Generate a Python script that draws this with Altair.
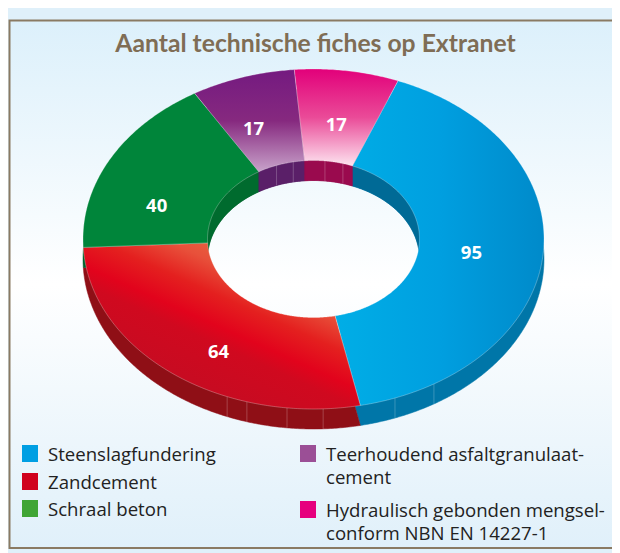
import math
import altair as alt

title_text = "Aantal technische fiches op Extranet"
categories = ["Steenslagfundering", "Zandcement", "Schraal beton", "Teerhoudend asfaltgranulaat-cement", "Hydraulisch gebonden mengsel-conform NBN EN 14227-1"]
values = [95, 64, 40, 17, 17]
legend_lines = [["Steenslagfundering"], ["Zandcement"], ["Schraal beton"],
                ["Teerhoudend asfaltgranulaat-", "cement"],
                ["Hydraulisch gebonden mengsel-", "conform NBN EN 14227-1"]]
legend_colors = ["#009fe3", "#d0021e", "#3fa535", "#9b4f96", "#e6007e"]
rim_colors = ["#0076a8", "#8f0f16", "#00602a", "#4f1a5c", "#8e0b4a"]
wall_colors = ["#006a96", "#8f0f16", "#006b2e", "#5a1f68", "#9a0a4e"]
label_shift = [2, -6, -12, -4, 0]
label_radius = [0.69, 0.783, 0.708, 0.698, 0.678]


def grad(x1, y1, x2, y2, stops):
    return {"gradient": "linear", "x1": x1, "y1": y1, "x2": x2, "y2": y2,
            "stops": [{"offset": o, "color": c} for o, c in stops]}


face_fills = [
    grad(0, 0, 1, 0, [(0, "#00aee6"), (0.5, "#009fe0"), (1, "#008aca")]),
    grad(0.45, 1, 1.05, 0.2, [(0, "#c40c22"), (0.33, "#d0091f"), (0.42, "#e2031c"), (0.57, "#e4201f"), (0.72, "#e8503a"), (0.88, "#e96a42")]),
    "#00853a",
    grad(0, 0, 0, 1, [(0, "#741a80"), (0.5, "#86297f"), (1, "#c8a2ca")]),
    grad(0, 0, 0, 1, [(0, "#e2007a"), (0.5, "#ea4b98"), (1, "#fde4f0")]),
]

# geometry of the tilted ring, image pixels
CX, CY, RX, RY = 313.5, 239.0, 230.5, 170.0
IRX, IRY, DEPTH = 106.0, 78.5, 20.0
START = 21.5
OFF = 8
proj = alt.Projection(type="identity", scale=1, translate=[-OFF, -OFF])


def pt(deg, rx, ry, dy=0.0):
    a = math.radians(deg)
    return [CX + rx * math.sin(a), CY - ry * math.cos(a) + dy]


def arc(a, b, rx, ry, dy=0.0):
    n = max(2, int(abs(b - a)) * 2)
    return [pt(a + (b - a) * i / n, rx, ry, dy) for i in range(n + 1)]


def poly(points):
    return {"type": "Feature", "properties": {},
            "geometry": {"type": "Polygon", "coordinates": [points + [points[0]]]}}


def line(points):
    return {"type": "Feature", "properties": {},
            "geometry": {"type": "LineString", "coordinates": points}}


def shape(features, **mark):
    return alt.Chart(alt.Data(values=features)).mark_geoshape(**mark).project(**proj.to_dict())


total = sum(values)
spans = []
cur = START
for v in values:
    spans.append((cur, cur + v / total * 360))
    cur += v / total * 360

layers = []
# panel
layers.append(shape([poly([[9.5, 20.5], [640, 20.5], [640, 548], [9.5, 548]])],
                    fill=grad(0, 0, 0, 1, [(0, "#dcf0fb"), (0.5, "#ffffff"), (1, "#e0f0fa")]),
                    stroke="#8a7a63", strokeWidth=2))
# outer side
for (a, b), c in zip(spans, rim_colors):
    layers.append(shape([poly(arc(a, b, RX, RY, DEPTH) + arc(b, a, IRX, IRY, DEPTH))], fill=c, stroke=c, strokeWidth=0.5))
# inner wall, only the far half shows
for (a, b), c in zip(spans, wall_colors):
    lo, hi = a, b
    for shift in (0, -360):
        l, h = max(lo + shift, -90), min(hi + shift, 90)
        if h > l:
            layers.append(shape([poly(arc(l, h, IRX, IRY) + arc(h, l, IRX, IRY, DEPTH))], fill=c, stroke=c, strokeWidth=0.5))
# facets
rim_seams = [202, 196.8, 186.6, 177.6, 159.3, 148.5]
wall_seams = [-20.4, -11, 6.2, 16.1]
seams = [line([pt(s, RX, RY), pt(s, RX, RY, DEPTH)]) for s in rim_seams]
seams += [line([pt(s, IRX, IRY), pt(s, IRX, IRY, DEPTH)]) for s in wall_seams]
layers.append(shape(seams, filled=False, stroke="#ffffff", strokeOpacity=0.28, strokeWidth=0.8))
# top face
for (a, b), f in zip(spans, face_fills):
    layers.append(shape([poly(arc(a, b, RX, RY) + arc(b, a, IRX, IRY))], fill=f, stroke="#ffffff", strokeOpacity=0.35, strokeWidth=0.8))

# slice labels
rows = []
for (a, b), v, s, r in zip(spans, values, label_shift, label_radius):
    x, y = pt((a + b) / 2 + s, RX * r, RY * r)
    rows.append({"lon": x, "lat": y, "t": str(v)})
text_enc = dict(longitude=alt.Longitude("lon:Q"), latitude=alt.Latitude("lat:Q"), text=alt.Text("t:N"))
layers.append(alt.Chart(alt.Data(values=rows)).mark_text(font="Open Sans", fontWeight="bold", fontSize=18.5, color="white")
              .encode(**text_enc).project(**proj.to_dict()))
# title
layers.append(alt.Chart(alt.Data(values=[{"lon": 315.5, "lat": 45, "t": title_text}]))
              .mark_text(font="Lato", fontWeight="bold", fontSize=24.7, color="#7f6d55")
              .encode(**text_enc).project(**proj.to_dict()))
# legend
swatches, texts = [], []
slots = [(22, 454), (22, 482), (22, 509), (300, 454), (300, 510)]
for (x, y), lines, c in zip(slots, legend_lines, legend_colors):
    swatches.append(poly([[x, y - 9], [x + 16, y - 9], [x + 16, y + 8], [x, y + 8]]))
    for i, ln in enumerate(lines):
        texts.append({"lon": x + 26, "lat": y + 0.5 + i * 23, "t": ln})
for f, c in zip(swatches, legend_colors):
    layers.append(shape([f], fill=c))
layers.append(alt.Chart(alt.Data(values=texts))
              .mark_text(font="Open Sans", fontSize=18.6, color="#222222", align="left")
              .encode(**text_enc).project(**proj.to_dict()))

chart = alt.layer(*layers).properties(
    width=604, height=545, padding=0, background="#dff0fa",
    autosize=alt.AutoSizeParams(type="none"),
).configure_view(stroke=None)
chart.save("out.html", embed_options={"renderer": "svg", "actions": False})
